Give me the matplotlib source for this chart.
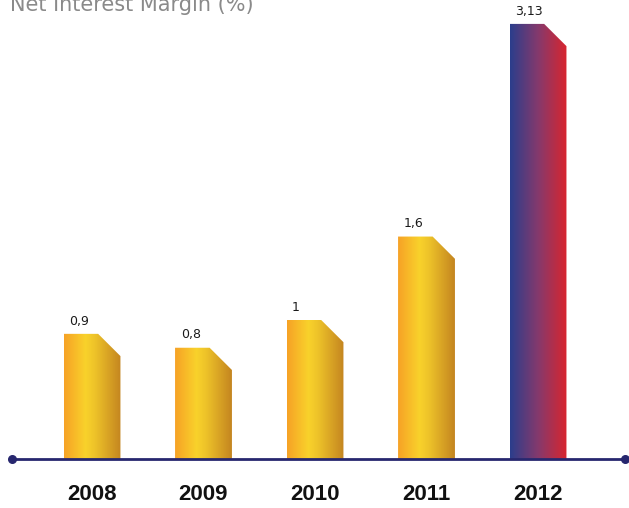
"""Net interest margin by year — chamfered gradient bars."""

import matplotlib
matplotlib.use("Agg")
import matplotlib.pyplot as plt
import numpy as np
from matplotlib.colors import LinearSegmentedColormap
from matplotlib.patches import Polygon

# ── Data ──────────────────────────────────────────────────────────────────────
years  = ["2008", "2009", "2010", "2011", "2012"]
values = [0.9, 0.8, 1.0, 1.6, 3.13]
labels = ["0,9", "0,8", "1", "1,6", "3,13"]
title  = "Net Interest Margin (%)"

# ── Styling ───────────────────────────────────────────────────────────────────
gold_cmap = LinearSegmentedColormap.from_list(
    "gold", [(0.0, "#F6A226"), (0.38, "#F9D22B"),
             (0.55, "#EDC229"), (1.0, "#C48520")]
)
navy_red_cmap = LinearSegmentedColormap.from_list(
    "navy_red", [(0.0, "#2B3E8C"), (0.5, "#86396C"), (1.0, "#D9252E")]
)
bar_cmaps = [gold_cmap] * 4 + [navy_red_cmap]

BAR_W   = 0.51
CUT_X   = 0.20   # horizontal size of the top-right chamfer
CUT_Y   = 0.16   # vertical size of the top-right chamfer
LINE_C  = "#27276F"

fig = plt.figure(figsize=(6.29, 5.08), dpi=100)
ax = fig.add_axes([0, 0, 1, 1])
ax.set_xlim(-0.825, 4.816)
ax.set_ylim(-0.353, 3.302)
ax.axis("off")

grad = np.linspace(0, 1, 256).reshape(1, -1)
x = np.arange(len(years))

for xi, val, lab, cmap in zip(x, values, labels, bar_cmaps):
    left, right = xi - BAR_W / 2, xi + BAR_W / 2
    outline = Polygon(
        [(left, 0), (left, val), (right - CUT_X, val),
         (right, val - CUT_Y), (right, 0)],
        closed=True, facecolor="none", edgecolor="none",
    )
    ax.add_patch(outline)
    img = ax.imshow(grad, cmap=cmap, aspect="auto",
                    extent=(left, right, 0, val), zorder=2)
    img.set_clip_path(outline)
    ax.text(left + 0.05, val + 0.045, lab, fontsize=9,
            color="#1a1a1a", ha="left", va="bottom")

# baseline with end dots
ax.plot([0.019, 0.994], [0, 0], color=LINE_C, lw=2,
        transform=ax.get_yaxis_transform(), zorder=3, solid_capstyle="butt")
ax.scatter([0.019, 0.994], [0, 0], s=30, color=LINE_C,
           transform=ax.get_yaxis_transform(), zorder=4)

for xi, yr in zip(x, years):
    ax.text(xi, -0.253, yr, fontsize=16, fontweight="bold",
            family="Liberation Sans", ha="center", va="center", color="#111111")

fig.text(10 / 629, 1 - 11 / 508, title, fontsize=15, color="#8a8a8a",
         ha="left", va="baseline")

fig.savefig("out.png", dpi=100)
